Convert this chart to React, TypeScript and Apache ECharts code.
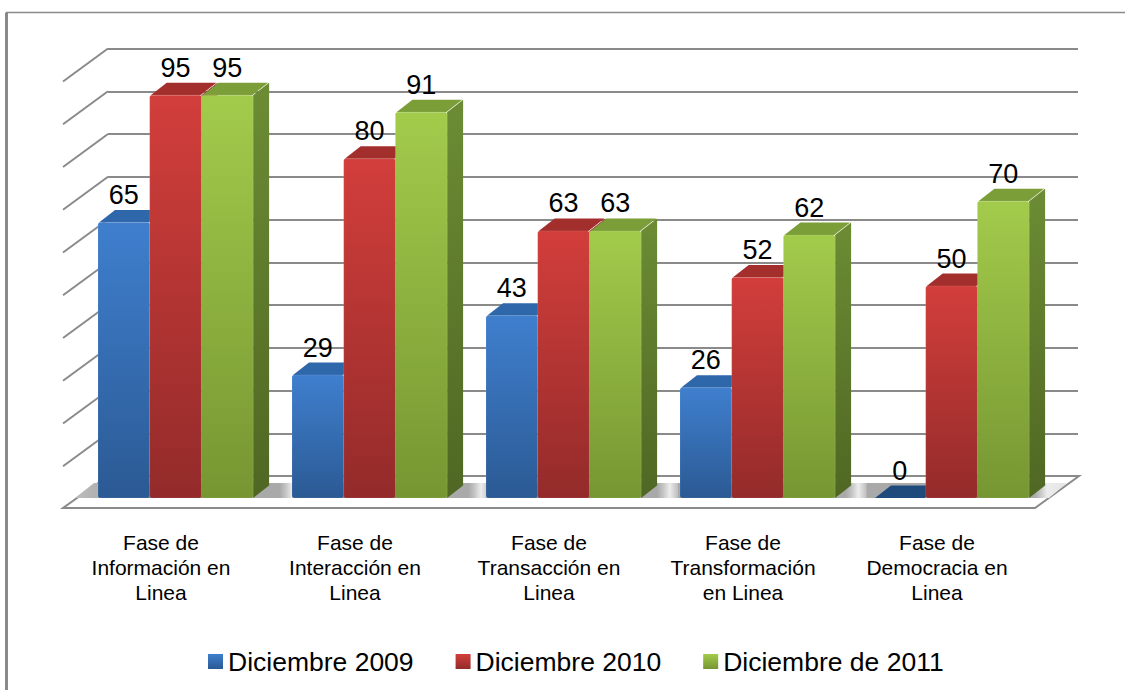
import React, { useEffect, useRef } from "react";
import * as echarts from "echarts";

const categories = [
  "Fase de\nInformación en\nLinea",
  "Fase de\nInteracción en\nLinea",
  "Fase de\nTransacción en\nLinea",
  "Fase de\nTransformación\nen Linea",
  "Fase de\nDemocracia en\nLinea",
];
const seriesNames = ["Diciembre 2009", "Diciembre 2010", "Diciembre de 2011"];
const values2009 = [65, 29, 43, 26, 0];
const values2010 = [95, 80, 63, 52, 50];
const values2011 = [95, 91, 63, 62, 70];
const wallTicks = [0, 10, 20, 30, 40, 50, 60, 70, 80, 90, 100];

const palettes = [
  { top: "#2f67ab", frontA: "#3f7fce", frontB: "#2b5a94", sideA: "#2f5f9a", sideB: "#1f4a7c", flat: "#1f4a7c", legend: "#3a76be" },
  { top: "#a32f2d", frontA: "#d23e3b", frontB: "#932b2a", sideA: "#a32f2d", sideB: "#7d2322", flat: "#7d2322", legend: "#c43a37" },
  { top: "#7c9e39", frontA: "#a3cb4b", frontB: "#769632", sideA: "#6c8c34", sideB: "#4f6723", flat: "#4f6723", legend: "#93b93f" },
];

const DEPTH_X = 16;
const DEPTH_Y = 12.5;
const WALL = { left: 108, top: 48.5, width: 970, height: 427.5 };
const BARS = { left: 78.5, top: 74, width: 970, height: 424 };
const FRONT = { left: 64, top: 400, width: 970, height: 108 };
const GRID_COLOR = "#8a8a8a";
const FONT = "'Liberation Sans', Arial, sans-serif";

function vGrad(a: string, b: string) {
  return new echarts.graphic.LinearGradient(0, 0, 0, 1, [
    { offset: 0, color: a },
    { offset: 1, color: b },
  ]);
}

function floorGradient() {
  const stops: { offset: number; color: string }[] = [];
  const x0 = 60;
  const span = 1020;
  const add = (x: number, color: string) =>
    stops.push({ offset: Math.min(1, Math.max(0, (x - x0) / span)), color });
  add(60, "#bdbdbd");
  categories.forEach((_, i) => {
    const start = BARS.left + i * 194 + 20;
    add(start, "#a9a9a9");
    add(start + 172, "#a9a9a9");
    add(start + 178, "#c4c4c4");
    add(start + 185, "#ececec");
    if (i < categories.length - 1) add(start + 193, "#c0c0c0");
  });
  add(1080, "#e4e4e4");
  return new echarts.graphic.LinearGradient(0, 0, 1, 0, stops);
}

function barSeries(index: number, values: number[]) {
  const pal = palettes[index];
  const barWidth = 51.7;
  return {
    type: "custom",
    name: seriesNames[index],
    xAxisIndex: 1,
    yAxisIndex: 1,
    z: 5 + index,
    clip: false,
    itemStyle: { color: vGrad(pal.frontA, pal.frontB) },
    data: values.map((v, i) => [i, v]),
    renderItem: (_: any, api: any) => {
      const cat = api.value(0);
      const val = api.value(1);
      const base = api.coord([cat, 0]);
      const topP = api.coord([cat, val]);
      const x = base[0] - 77.5 + index * barWidth;
      const y = topP[1];
      const h = base[1] - y;
      const w = barWidth;
      const children: any[] = [];
      const flat = h < 1;
      children.push({
        type: "polygon",
        shape: {
          points: [
            [x + w, y],
            [x + w + DEPTH_X, y - DEPTH_Y],
            [x + w + DEPTH_X, base[1] - DEPTH_Y],
            [x + w, base[1]],
          ],
        },
        style: { fill: vGrad(pal.sideA, pal.sideB) },
      });
      children.push({
        type: "polygon",
        shape: {
          points: [
            [x + 1, y],
            [x + DEPTH_X + 1, y - DEPTH_Y],
            [x + w + DEPTH_X - 1, y - DEPTH_Y],
            [x + w - 1, y],
          ],
        },
        style: { fill: flat ? pal.flat : pal.top },
      });
      if (!flat) {
        children.push({
          type: "rect",
          shape: { x, y, width: w, height: h, r: 2 },
          style: { fill: vGrad(pal.frontA, pal.frontB), stroke: "rgba(255,255,255,0.10)", lineWidth: 1 },
        });
      }
      children.push({
        type: "text",
        style: {
          x: x + w / 2,
          y: y - DEPTH_Y - 15,
          text: String(val),
          fill: "#000",
          fontFamily: FONT,
          fontSize: 27,
          align: "center",
          verticalAlign: "middle",
        },
      });
      return { type: "group", children };
    },
  };
}

const wallSeries = {
  type: "custom",
  xAxisIndex: 0,
  yAxisIndex: 0,
  z: 1,
  clip: false,
  silent: true,
  data: wallTicks.map((v) => [0, v]),
  renderItem: (params: any, api: any) => {
    const tick = api.value(1);
    const p = api.coord([0, tick]);
    const cs = params.coordSys;
    const left = cs.x;
    const dx = -45;
    const dy = 33;
    const children: any[] = [];
    if (tick > 0) {
      children.push({
        type: "line",
        shape: { x1: left, y1: p[1], x2: left + dx, y2: p[1] + dy },
        style: { stroke: GRID_COLOR, lineWidth: 2 },
      });
    } else {
      const y = p[1];
      const right = cs.x + cs.width + 1;
      children.push({
        type: "polygon",
        shape: {
          points: [
            [left, y],
            [right, y],
            [right - 44, y + 32],
            [left - 45, y + 32],
          ],
        },
        style: { fill: "#ffffff", stroke: GRID_COLOR, lineWidth: 2 },
      });
      children.push({
        type: "polygon",
        shape: {
          points: [
            [left - 14, y + 7],
            [right - 12, y + 7],
            [right - 30, y + 22],
            [left - 33, y + 22],
          ],
        },
        style: { fill: floorGradient() },
      });
    }
    return { type: "group", children };
  },
};

export default function App() {
  const ref = useRef<HTMLDivElement>(null);
  useEffect(() => {
    document.body.style.margin = "0";
    const chart = echarts.init(ref.current!, null, { renderer: "svg" });
    chart.setOption({
      animation: false,
      backgroundColor: "#ffffff",
      grid: [
        { ...WALL },
        { ...BARS },
        { ...FRONT },
      ],
      xAxis: [
        { gridIndex: 0, type: "category", data: categories, show: false },
        { gridIndex: 1, type: "category", data: categories, show: false },
        {
          gridIndex: 2,
          type: "category",
          data: categories,
          axisLine: { show: false },
          axisTick: { show: false },
          axisLabel: {
            interval: 0,
            margin: 22,
            fontFamily: FONT,
            fontSize: 21,
            lineHeight: 25,
            color: "#000",
            align: "center",
          },
        },
      ],
      yAxis: [
        {
          gridIndex: 0,
          type: "value",
          min: 0,
          max: 100,
          interval: 10,
          axisLine: { show: false },
          axisTick: { show: false },
          axisLabel: { show: false },
          splitLine: { show: true, lineStyle: { color: GRID_COLOR, width: 2 } },
        },
        { gridIndex: 1, type: "value", min: 0, max: 100, show: false },
        { gridIndex: 2, type: "value", min: 0, max: 100, show: false },
      ],
      legend: {
        left: 203,
        top: 643,
        itemWidth: 15,
        itemHeight: 15,
        itemGap: 42,
        icon: "rect",
        data: seriesNames,
        selectedMode: false,
        textStyle: { fontFamily: FONT, fontSize: 26.5, color: "#000" },
      },
      graphic: [
        { type: "line", shape: { x1: 6.5, y1: 12.5, x2: 6.5, y2: 690 }, style: { stroke: GRID_COLOR, lineWidth: 3 } },
        { type: "line", shape: { x1: 6, y1: 12.5, x2: 1125, y2: 12.5 }, style: { stroke: GRID_COLOR, lineWidth: 1.5 } },
      ],
      series: [
        wallSeries,
        barSeries(0, values2009),
        barSeries(1, values2010),
        barSeries(2, values2011),
      ],
    });
    return () => chart.dispose();
  }, []);
  return <div ref={ref} style={{ width: 1125, height: 690 }} />;
}
